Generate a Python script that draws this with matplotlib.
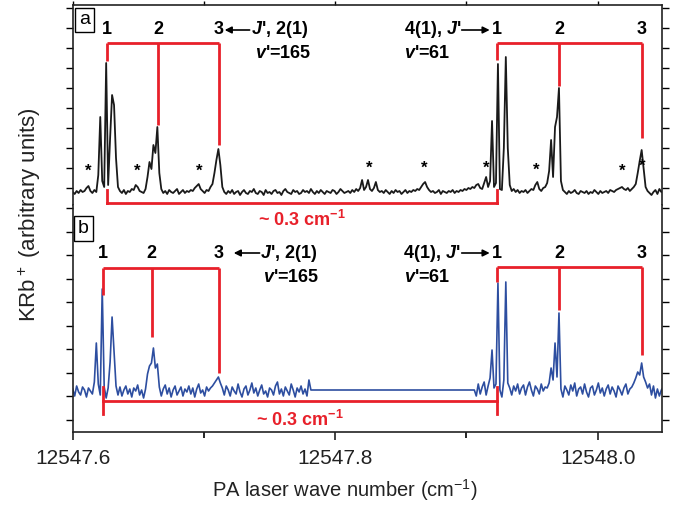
import numpy as np
import matplotlib
matplotlib.use("Agg")
import matplotlib.pyplot as plt
from matplotlib.ticker import FixedLocator

plt.rcParams['font.family'] = ['Liberation Sans', 'DejaVu Sans']
plt.rcParams['mathtext.fontset'] = 'custom'
plt.rcParams['mathtext.rm'] = 'Liberation Sans'
plt.rcParams['mathtext.it'] = 'Liberation Sans:italic'
plt.rcParams['mathtext.bf'] = 'Liberation Sans:bold'
plt.rcParams['mathtext.bfit'] = 'Liberation Sans:bold:italic'

# ---------------- data ----------------
X0 = 12547.6          # start of the scan (cm^-1)
STEP = 0.0015         # sampling step (cm^-1)

# panel a: KRb+ signal (arb. units, baseline = 0)
sig_a = [
    1, -1, 2, 0, 3, 1, 2, 5, 7, 2, 0, 3, 1, 18, 76, 12, 6, 130, 8, 55,
    98, 88, 35, 6, 2, 0, 3, -1, 2, 1, 4, 3, 8, 6, 2, 1, 0, 4, 16, 31,
    24, 48, 40, 66, 20, 4, 0, 2, -1, 3, 1, 0, 2, 4, -1, 1, 3, 0, 2, 1,
    3, 2, 5, 7, 9, 4, 2, 0, 3, 2, 6, 9, 20, 33, 44, 28, 6, 1, -1, 2,
    0, 3, -1, 1, 2, -2, 1, 3, 0, -1, 2, 1, 4, 0, -1, 2, 1, -2, 3, 0,
    1, -1, 2, 3, 0, 1, -2, 2, 4, 1, 0, -1, 3, 1, 2, -1, 0, 3, 1, 2,
    0, 4, 1, -1, 2, 0, 3, 1, -1, 2, 1, 0, 3, 2, -1, 1, 4, 2, 0, 1,
    2, 0, 3, 1, 4, 2, 5, 13, 3, 6, 13, 4, 2, 5, 11, 3, 1, 2, 0, 3,
    1, -1, 2, 0, 3, 1, 2, -1, 1, 3, 0, 2, 1, 3, 2, 4, 3, 6, 9, 11,
    6, 3, 1, 2, 0, 1, 3, -1, 2, 1, 0, 2, 1, 3, 0, 2, 1, 3, 2, 4,
    3, 5, 4, 6, 5, 8, 9, 5, 4, 10, 16, 6, 12, 72, 6, 10, 129, 4, 3, 45,
    136, 45, 8, 2, 4, 1, 3, 0, 2, 1, 3, 0, 2, 4, 3, 8, 11, 4, 2, 5,
    6, 10, 22, 53, 16, 66, 76, 105, 12, 3, 1, -1, 2, 0, 1, 3, 0, -1, 2, 1,
    0, 2, -1, 1, 0, 3, 1, -1, 2, 0, 1, 2, 0, 3, 2, 1, 3, 4, 5, 6,
    4, 3, 5, 2, 4, 6, 9, 20, 32, 43, 24, 6, 2, 0, -2, 1, 3, -1, 4, 1, 2,
]

# panel b: two scan pieces (gap in between joined by a straight line)
B_LEFT_START = 0      # sample index of first left-piece point
sig_b_left = [
    3, -4, 6, 0, -3, 5, 2, -5, 4, 1, -2, 10, 49, 8, -3, 103, 5, -6, 4, 30,
    75, 40, 6, -3, 5, -4, 2, 6, -2, 3, -5, 4, 1, 7, -3, 2, -6, 3, 18, 26,
    29, 44, 24, 28, 5, -4, 3, 7, -2, 4, -5, 2, 6, -3, 1, 5, -4, 3, 0, 6,
    -2, 4, -5, 3, 8, -1, 2, -4, 5, 1, 4, 6, 9, 12, 15, 9, 4, -3, 6, 2,
    -4, 5, 1, -2, 8, 0, -5, 3, 6, -3, 2, 9, -1, 4, -4, 2, 7, -2, 1, -5,
    4, 2, -3, 6, 10, -2, 3, -4, 5, 1, -3, 8, 2, -5, 4, 0, 6, -2, 3, -4, 12, 2,
]
B_RIGHT_START = 204   # sample index of first right-piece point
sig_b_right = [
    2, -4, 8, -2, 5, 10, -3, 6, 14, 42, 4, 8, 109, 2, -5, 12, 110, 9, 4, -3,
    6, 1, 8, -2, 4, 7, -3, 5, 10, 2, -4, 6, 3, -2, 8, 1, 5, 4, 9, 24,
    12, 49, 15, 79, 3, -5, 6, 2, -3, 7, 1, 9, -4, 3, 5, -2, 8, 0, -5, 4,
    6, -3, 2, 9, -1, 4, -4, 3, 7, -2, 5, 1, -5, 6, 2, -3, 4, 8, -2, 3,
    5, 9, 14, 20, 17, 29, 15, 10, 4, 8, -3, 6, -6, 3, -4, 2, 5,
]

# asterisks (unassigned lines) in panel a
star_x = [12547.6116, 12547.6489, 12547.6960, 12547.8261, 12547.8680,
          12547.9150, 12547.9530, 12548.0185, 12548.0337]
star_y = [22, 22, 22, 25, 25, 25, 23, 22, 27]

# assignment brackets (positions in cm^-1)
lines_a_165 = [12547.6261, 12547.6649, 12547.7113]
lines_a_61 = [12547.9234, 12547.9705, 12548.0337]
lines_b_165 = [12547.6230, 12547.6603, 12547.7113]
lines_b_61 = [12547.9234, 12547.9705, 12548.0337]
drop_a_165 = [132, 68, 48]
drop_a_61 = [133, 107, 55]
drop_b_165 = [97, 55, 19]
drop_b_61 = [110, 82, 37]
rot_labels = ['1', '2', '3']

xticks_major = [12547.6, 12547.8, 12548.0]
xticks_minor = [12547.7, 12547.9]

RED = '#e8202a'
BLUE = '#2d4ea0'
BLACK = '#1a1a1a'

# ---------------- figure ----------------
fig = plt.figure(figsize=(6.73, 5.13), dpi=100)
W, H = 673.0, 513.0
L, R = 72.7 / W, 662 / W
ax_a = fig.add_axes([L, (H - 205) / H, R - L, 200 / H])
ax_b = fig.add_axes([L, (H - 432) / H, R - L, 227 / H])

x_a = X0 + STEP * np.arange(len(sig_a))
ax_a.plot(x_a, sig_a, color=BLACK, lw=1.3)
for sx, sy in zip(star_x, star_y):
    ax_a.text(sx, sy, '*', ha='center', va='center', fontsize=12, fontweight='bold')

xb = np.concatenate([X0 + STEP * (B_LEFT_START + np.arange(len(sig_b_left))),
                     X0 + STEP * (B_RIGHT_START + np.arange(len(sig_b_right)))])
yb = np.concatenate([sig_b_left, sig_b_right])
ax_b.plot(xb, yb, color=BLUE, lw=1.2)

for ax in (ax_a, ax_b):
    ax.set_xlim(12547.6, 12548.049)
    for s in ax.spines.values():
        s.set_linewidth(1.2)
        s.set_color('#222222')
ax_a.set_ylim(-12, 188)
ax_b.set_ylim(-40, 187)
ax_a.spines['bottom'].set_visible(False)
ax_b.spines['top'].set_visible(False)

# ticks
ax_a.set_xticks(xticks_major)
ax_a.set_xticks(xticks_minor, minor=True)
ax_a.tick_params(axis='x', which='both', bottom=False, top=True, labelbottom=False,
                 direction='out', length=3, width=1)
ax_b.set_xticks(xticks_major)
ax_b.set_xticks(xticks_minor, minor=True)
ax_b.set_xticklabels(['12547.6', '12547.8', '12548.0'])
ax_b.tick_params(axis='x', which='major', direction='out', length=6, width=1.2,
                 labelsize=15, pad=6, colors='#222222')
ax_b.tick_params(axis='x', which='minor', direction='out', length=4, width=1.2)

ax_a.yaxis.set_major_locator(FixedLocator(list(np.arange(5, 188, 20))))
ax_b.yaxis.set_major_locator(FixedLocator(list(184 - 23.5 * np.arange(0, 10))))
for ax in (ax_a, ax_b):
    ax.tick_params(axis='y', which='major', left=True, right=True, labelleft=False,
                   direction='out', length=5, width=1)
    ax.tick_params(axis='y', which='minor', left=False, right=False)

# ---------------- annotations ----------------
fs = 13


def bracket(ax, xs, drops, ytop, labels, ylab):
    ax.plot([xs[0], xs[-1]], [ytop, ytop], color=RED, lw=2, clip_on=False,
            solid_capstyle='butt')
    for x, d in zip(xs, drops):
        ax.plot([x, x], [ytop, d], color=RED, lw=2, clip_on=False, solid_capstyle='butt')
    for x, t in zip(xs, labels):
        ax.text(x, ylab, t, ha='center', va='center', fontsize=fs, fontweight='bold')


bracket(ax_a, lines_a_165, drop_a_165, 150, rot_labels, 163)
bracket(ax_a, lines_a_61, drop_a_61, 150, rot_labels, 163)
bracket(ax_b, lines_b_165, drop_b_165, 124, rot_labels, 139)
bracket(ax_b, lines_b_61, drop_b_61, 125, rot_labels, 139)


def spacing_bracket(ax, x1, x2, y, ylo, yhi):
    ax.plot([x1, x2], [y, y], color=RED, lw=2, clip_on=False)
    for x in (x1, x2):
        ax.plot([x, x], [ylo, yhi], color=RED, lw=2, clip_on=False)


spacing_bracket(ax_a, lines_a_165[0], lines_a_61[0], -10, -20, 3)
ax_b.text((lines_a_165[0] + lines_a_61[0]) / 2, 172, r'~ 0.3 cm$^{\mathbf{-1}}$', color=RED,
          ha='center', va='center', fontsize=fs, fontweight='bold')
spacing_bracket(ax_b, lines_b_165[0], lines_b_61[0], -9, -22, 5)
ax_b.text((lines_b_165[0] + lines_b_61[0]) / 2, -28, r'~ 0.3 cm$^{\mathbf{-1}}$', color=RED,
          ha='center', va='center', fontsize=fs, fontweight='bold', clip_on=False)

arrow_kw = dict(arrowstyle='-|>', color='black', lw=1.2, mutation_scale=10,
                shrinkA=0, shrinkB=0)


def labels(ax, ylab, yv, x_arrL, x_arrR, x_txtL, x_v165, x_arr2L, x_arr2R, x_txt2R, x_v61):
    ax.annotate('', xy=(x_arrL, ylab), xytext=(x_arrR, ylab), arrowprops=arrow_kw)
    ax.text(x_txtL, ylab, r"$\mathbfit{J}$', 2(1)", ha='left', va='center',
            fontsize=fs, fontweight='bold')
    ax.text(x_v165, yv, r"$\mathbfit{v}$'=165", ha='left', va='center',
            fontsize=fs, fontweight='bold')
    ax.annotate('', xy=(x_arr2R, ylab), xytext=(x_arr2L, ylab), arrowprops=arrow_kw)
    ax.text(x_txt2R, ylab, r"4(1), $\mathbfit{J}$'", ha='right', va='center',
            fontsize=fs, fontweight='bold')
    ax.text(x_v61, yv, r"$\mathbfit{v}$'=61", ha='left', va='center',
            fontsize=fs, fontweight='bold')


labels(ax_a, 163, 140, 12547.7158, 12547.7348, 12547.7355, 12547.7386,
       12547.8964, 12547.9177, 12547.8964, 12547.8527)
labels(ax_b, 139, 114, 12547.7227, 12547.7424, 12547.7430, 12547.7447,
       12547.8964, 12547.9177, 12547.8950, 12547.8527)

box = dict(boxstyle='square,pad=0.2', fc='white', ec='black', lw=1)
ax_a.text(0.02, 0.925, 'a', transform=ax_a.transAxes, ha='center', va='center',
          fontsize=14, bbox=box)
ax_b.text(0.018, 0.896, 'b', transform=ax_b.transAxes, ha='center', va='center',
          fontsize=14, bbox=box)

fig.text(30 / W, 1 - 215 / H, r'KRb$^+$ (arbitrary units)', rotation=90,
         ha='center', va='center', fontsize=16, color='#222222')
fig.text(345 / W, 1 - 490 / H, r'PA laser wave number (cm$^{-1}$)',
         ha='center', va='center', fontsize=14.5, color='#222222')

fig.savefig('out.png', dpi=100)
